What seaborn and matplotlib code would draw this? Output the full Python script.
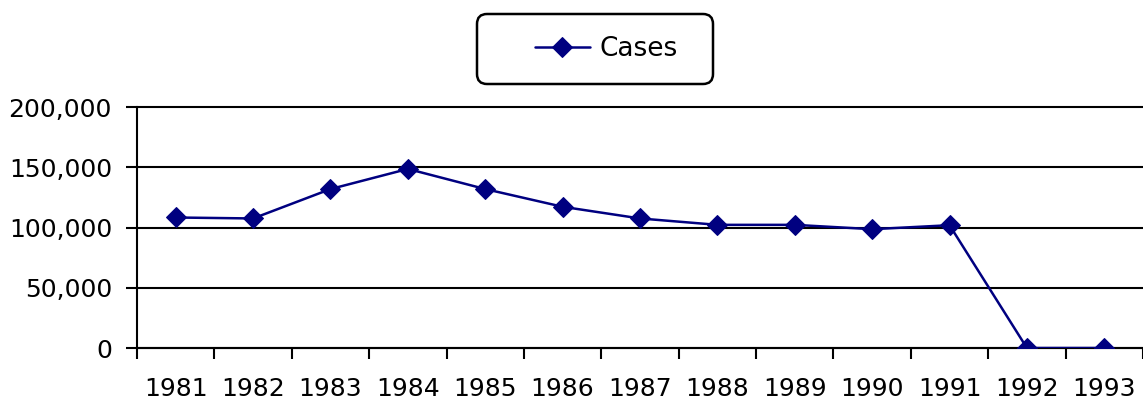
import pandas as pd
import seaborn as sns
import matplotlib.pyplot as plt
import numpy as np
from matplotlib.ticker import FuncFormatter, FixedLocator
from matplotlib.patches import FancyBboxPatch

years = ['1981', '1982', '1983', '1984', '1985', '1986', '1987',
         '1988', '1989', '1990', '1991', '1992', '1993']
cases = [108300, 107500, 131900, 148600, 131900, 117200, 107500,
         102200, 102200, 98600, 101900, 0, 0]

df = pd.DataFrame({'year': years, 'cases': cases})

sns.set_style('white')
plt.rcParams['font.family'] = ['DejaVu Sans']
plt.rcParams['text.color'] = 'black'
plt.rcParams['xtick.color'] = 'black'
plt.rcParams['ytick.color'] = 'black'

fig = plt.figure(figsize=(11.43, 4.05), dpi=100)
ax = fig.add_axes([137 / 1143, 1 - 348 / 405, 1 - 137 / 1143, (348 - 107) / 405])

sns.lineplot(data=df, x='year', y='cases', ax=ax, color='#000080',
             marker='D', markersize=10.5, linewidth=1.8, label='Cases',
             markeredgecolor='#000080', zorder=5)

n = len(years)
ax.set_xlim(-0.5, n - 0.5)
ax.set_ylim(0, 200000)
ax.set_yticks([0, 50000, 100000, 150000, 200000])
ax.yaxis.set_major_formatter(FuncFormatter(lambda v, p: f'{int(v):,}'))
ax.grid(axis='y', color='black', linewidth=1.5)
for gl in ax.yaxis.get_gridlines():
    gl.set_clip_on(False)

ax.set_xticks(range(n))
ax.set_xticklabels(years)
ax.xaxis.set_minor_locator(FixedLocator(np.arange(-0.5, n, 1.0)))
ax.tick_params(axis='x', which='major', bottom=True, length=0, pad=21, labelsize=18)
ax.tick_params(axis='x', which='minor', bottom=True, length=8, width=1.5,
               color='black', direction='out')
ax.tick_params(axis='y', left=True, length=8, width=1.5, color='black',
               direction='out', pad=10, labelsize=18)
ax.set_xlabel('')
ax.set_ylabel('')

for s in ['top', 'right']:
    ax.spines[s].set_visible(False)
for s in ['left', 'bottom']:
    ax.spines[s].set_color('black')
    ax.spines[s].set_linewidth(1.5)

ax.get_legend().remove()
h, l = ax.get_legend_handles_labels()
box = FancyBboxPatch((4.77, (405 - 84) / 100), 2.36, 0.70,
                     boxstyle='round,pad=0,rounding_size=0.1',
                     transform=fig.dpi_scale_trans, facecolor='white',
                     edgecolor='black', linewidth=1.8)
fig.patches.append(box)
leg = fig.legend(h, l, loc='center', bbox_to_anchor=(606 / 1143, 1 - 49 / 405),
                 fontsize=19, frameon=False, handlelength=2.1, handletextpad=0.35)

fig.savefig('out.png', dpi=100)
